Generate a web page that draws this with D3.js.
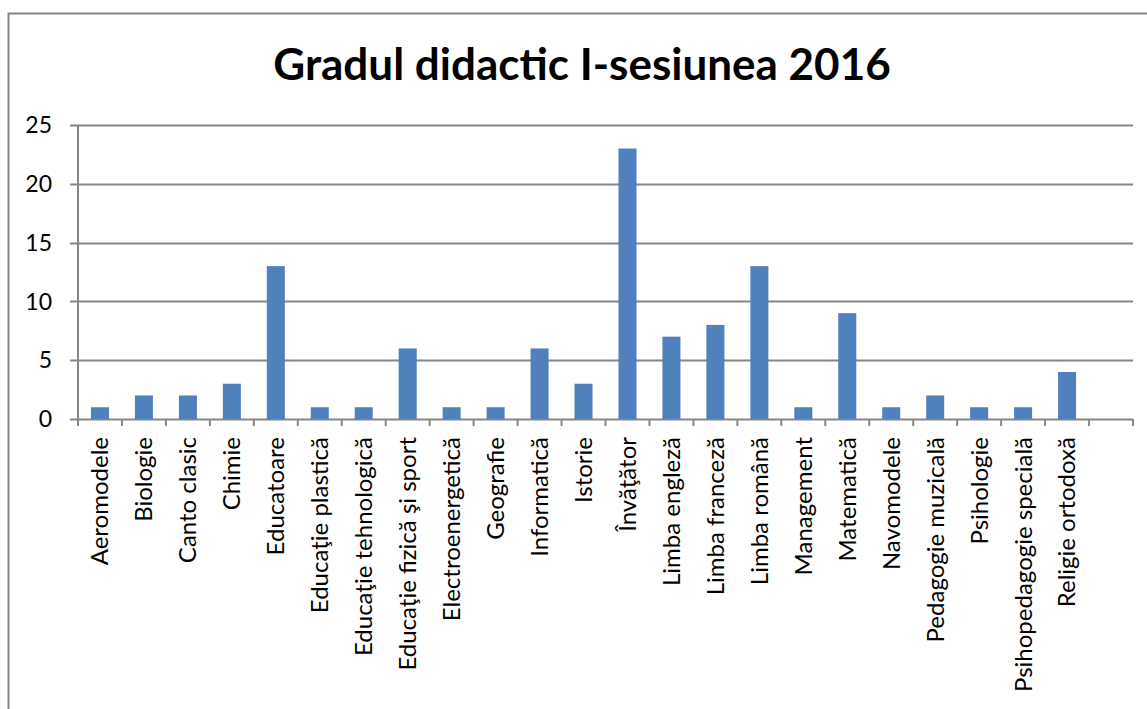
<!DOCTYPE html>
<html>
<head>
    <meta charset="utf-8" />
    <script src="https://d3js.org/d3.v7.min.js"></script>
    <title>Gradul didactic I-sesiunea 2016</title>
    <style>
        body { margin: 0; background: #fff; }
        text { font-family: Lato, "Open Sans", sans-serif; fill: #000; }
    </style>
</head>
<body>
    <svg id="chart"></svg>
    <script type="text/javascript">
        // data
        var categories = ["Aeromodele", "Biologie", "Canto clasic", "Chimie", "Educatoare",
            "Educaţie plastică", "Educaţie tehnologică", "Educaţie fizică şi sport",
            "Electroenergetică", "Geografie", "Informatică", "Istorie", "Învăţător",
            "Limba engleză", "Limba franceză", "Limba română", "Management", "Matematică",
            "Navomodele", "Pedagogie muzicală", "Psihologie", "Psihopedagogie specială",
            "Religie ortodoxă", ""];
        var counts = [1, 2, 2, 3, 13, 1, 1, 6, 1, 1, 6, 3, 23, 7, 8, 13, 1, 9, 1, 2, 1, 1, 4, null];
        var yTicks = [0, 5, 10, 15, 20, 25];
        var title = "Gradul didactic I-sesiunea 2016";

        var W = 1147, H = 709;
        // plot box (note: "top" is reserved on window, so use plotTop)
        var plotLeft = 78, plotRight = 1133, plotTop = 125, plotBottom = 419;
        var gray = '#868686';

        const svg = d3.select('#chart').attr('width', W).attr('height', H);

        // outer frame (runs off the right and bottom edges)
        svg.append('rect')
            .attr('x', 8.5).attr('y', 13.5)
            .attr('width', W + 20).attr('height', H + 20)
            .attr('fill', 'none').attr('stroke', gray).attr('stroke-width', 2);

        svg.append('text')
            .attr('x', 582).attr('y', 80)
            .attr('text-anchor', 'middle')
            .style('font-weight', 'bold')
            .style('font-size', '44px')
            .text(title);

        var x = d3.scaleBand().domain(d3.range(categories.length))
            .range([plotLeft, plotRight]).paddingInner(0.59).paddingOuter(0.295);
        var y = d3.scaleLinear().domain([0, 25]).range([plotBottom, plotTop]);

        // gridlines + y labels
        yTicks.forEach(function (t) {
            svg.append('line')
                .attr('x1', plotLeft - 8).attr('x2', plotRight)
                .attr('y1', Math.round(y(t)) + 0.5).attr('y2', Math.round(y(t)) + 0.5)
                .attr('stroke', gray).attr('stroke-width', 2);
            svg.append('text')
                .attr('x', 52).attr('y', y(t))
                .attr('dy', '0.36em')
                .attr('text-anchor', 'end')
                .style('font-size', '23px')
                .text(t);
        });

        // bars
        counts.forEach(function (v, i) {
            if (v == null) return;
            svg.append('rect')
                .attr('x', x(i)).attr('width', x.bandwidth())
                .attr('y', y(v)).attr('height', y(0) - y(v))
                .attr('fill', '#4F81BD');
        });

        // y axis line
        svg.append('line')
            .attr('x1', plotLeft).attr('x2', plotLeft)
            .attr('y1', plotTop).attr('y2', plotBottom + 7)
            .attr('stroke', gray).attr('stroke-width', 2);

        // category boundary ticks
        var step = x.step();
        for (var i = 1; i <= categories.length; i++) {
            svg.append('line')
                .attr('x1', plotLeft + step * i).attr('x2', plotLeft + step * i)
                .attr('y1', plotBottom).attr('y2', plotBottom + 7)
                .attr('stroke', gray).attr('stroke-width', 2);
        }

        // category labels
        categories.forEach(function (c, i) {
            var cx = x(i) + x.bandwidth() / 2;
            svg.append('text')
                .attr('transform', 'translate(' + cx + ',437) rotate(-90)')
                .attr('dy', '0.35em')
                .attr('text-anchor', 'end')
                .style('font-size', '24px')
                .text(c);
        });
    </script>
</body>
</html>
